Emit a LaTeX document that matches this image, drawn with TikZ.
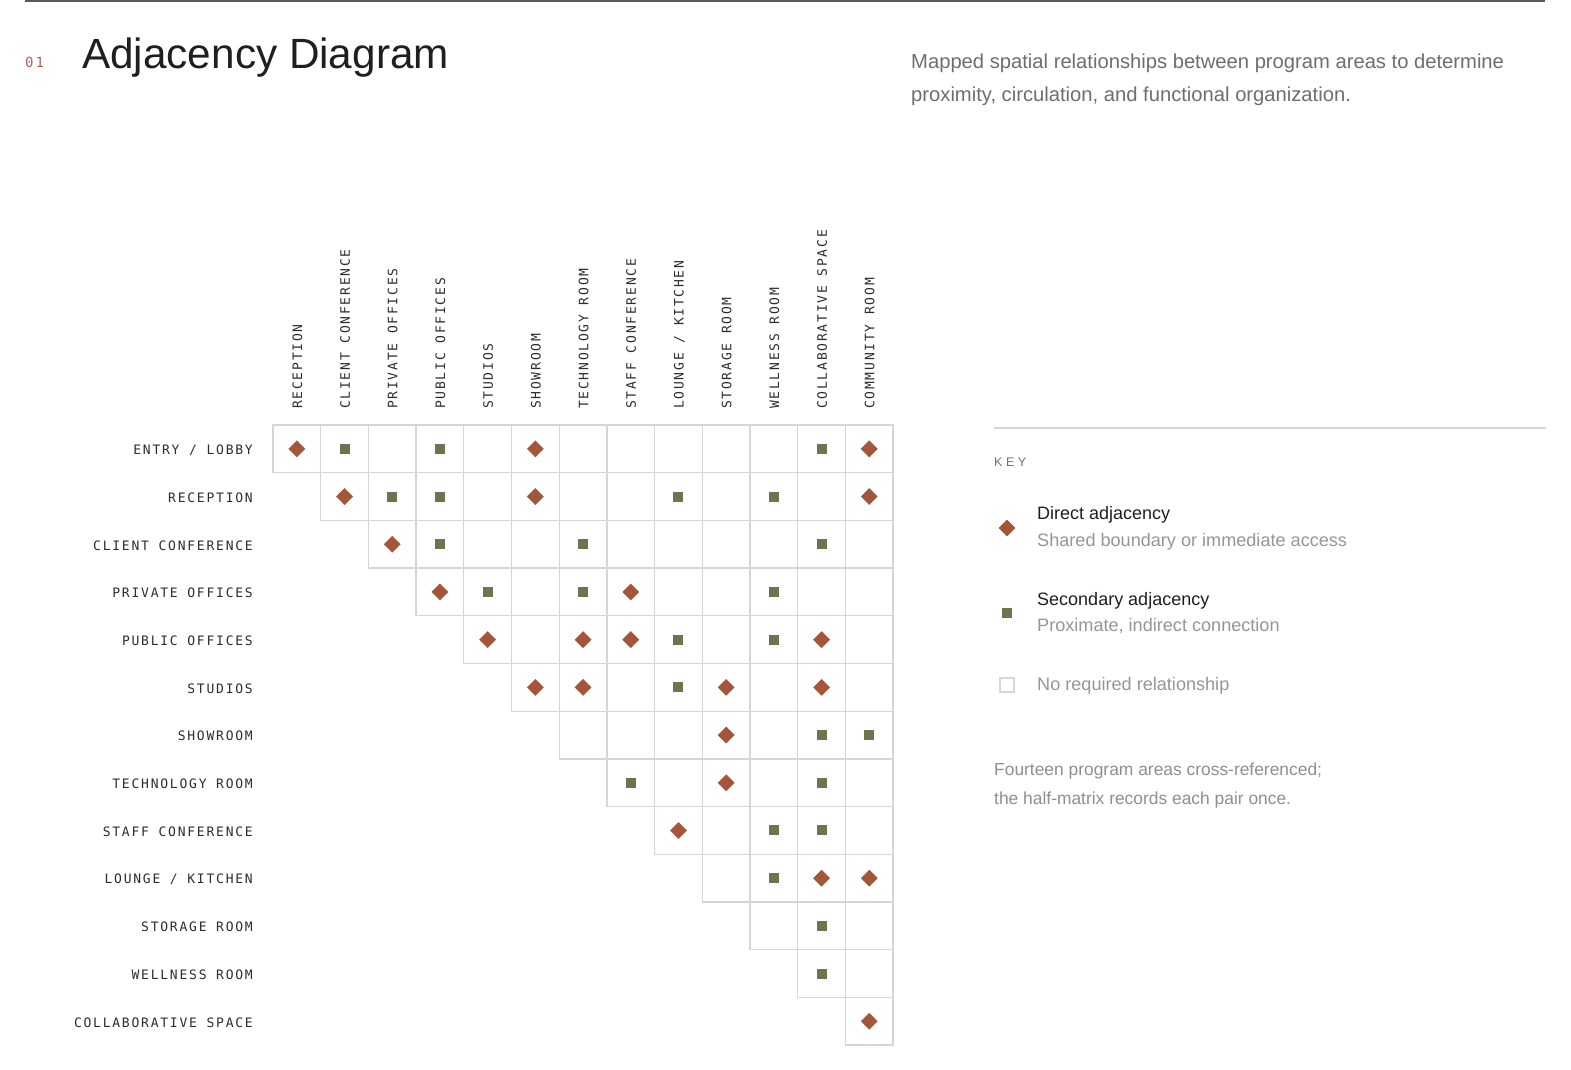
\documentclass[tikz,border=0pt]{standalone}
\usepackage{fontspec}
\setmainfont{Liberation Sans}
\newfontfamily\monof{DejaVu Sans Mono}[LetterSpace=13.6]
\newfontfamily\keyf{Liberation Sans}[LetterSpace=28]
\usetikzlibrary{shapes.geometric}
\definecolor{rust}{RGB}{164,86,58}
\definecolor{olivesq}{RGB}{106,117,82}
\definecolor{gridgray}{RGB}{214,214,214}
\definecolor{labelink}{RGB}{45,45,45}
\definecolor{descgray}{RGB}{110,110,110}
\definecolor{softgray}{RGB}{150,150,150}
\definecolor{numbrown}{RGB}{165,105,85}
\tikzset{
  cellbox/.style={draw=gridgray, line width=1.3pt, minimum size=47.7pt, inner sep=0pt},
  directmark/.style={diamond, fill=rust, inner sep=0pt, minimum size=17pt},
  secondmark/.style={rectangle, fill=olivesq, inner sep=0pt, minimum size=10pt},
  rowlab/.style={font=\monof\fontsize{13}{15}\selectfont, text=labelink, inner sep=0pt, anchor=base east},
  collab/.style={font=\monof\fontsize{13}{15}\selectfont, text=labelink, inner sep=0pt, rotate=90, anchor=base west},
  keytitle/.style={font=\fontsize{18}{22}\selectfont, text=black!88, inner sep=0pt, anchor=base west},
  keysub/.style={font=\fontsize{18.1}{22}\selectfont, text=softgray, inner sep=0pt, anchor=base west},
  desc/.style={font=\fontsize{20.2}{24}\selectfont, text=descgray, inner sep=0pt, anchor=base west},
  foot/.style={font=\fontsize{17.4}{22}\selectfont, text=softgray!95!black, inner sep=0pt, anchor=base west}
}
\begin{document}
\begin{tikzpicture}[x=1pt,y=-1pt]
\useasboundingbox (0,0) rectangle (1571,1070);
\fill[white] (0,0) rectangle (1571,1070);
% top rule
\draw[black!65, line width=1.3pt] (25,1) -- (1545,1);
% header
\node[font=\monof\fontsize{14}{16}\selectfont, text=numbrown, inner sep=0pt, anchor=base west] (num) at (25,68) {01};
\node[font=\fontsize{42.3}{48}\selectfont, text=black!88, inner sep=0pt, anchor=base west] (title) at (82,68.5) {Adjacency Diagram};
\node[desc] (desc1) at (911,68.5) {Mapped spatial relationships between program areas to determine};
\node[desc] (desc2) at (911,101.5) {proximity, circulation, and functional organization.};
% grid cells
\foreach \i in {0,...,12} {
  \foreach \j in {\i,...,12} {
    \node[cellbox] (c\i-\j) at ({273+(\j+0.5)*47.7},{425+(\i+0.5)*47.7}) {};
  }
}
% row labels
\foreach \nm [count=\k from 0] in {{ENTRY / LOBBY},RECEPTION,{CLIENT CONFERENCE},{PRIVATE OFFICES},{PUBLIC OFFICES},STUDIOS,SHOWROOM,{TECHNOLOGY ROOM},{STAFF CONFERENCE},{LOUNGE / KITCHEN},{STORAGE ROOM},{WELLNESS ROOM},{COLLABORATIVE SPACE}} {
  \node[rowlab] (r\k) at (253,{425+(\k+0.5)*47.7+5.8}) {\nm};
}
% column labels
\foreach \nm [count=\k from 0] in {RECEPTION,{CLIENT CONFERENCE},{PRIVATE OFFICES},{PUBLIC OFFICES},STUDIOS,SHOWROOM,{TECHNOLOGY ROOM},{STAFF CONFERENCE},{LOUNGE / KITCHEN},{STORAGE ROOM},{WELLNESS ROOM},{COLLABORATIVE SPACE},{COMMUNITY ROOM}} {
  \node[collab] (h\k) at ({273+(\k+0.5)*47.7+5.2},409) {\nm};
}
% direct adjacencies
\foreach \i/\j in {0/0,0/5,0/12,1/1,1/5,1/12,2/2,3/3,3/7,4/4,4/6,4/7,4/11,5/5,5/6,5/9,5/11,6/9,7/9,8/8,9/11,9/12,12/12} {
  \node[directmark] (d\i-\j) at (c\i-\j) {};
}
% secondary adjacencies
\foreach \i/\j in {0/1,0/3,0/11,1/2,1/3,1/8,1/10,2/3,2/6,2/11,3/4,3/6,3/10,4/8,4/10,5/8,6/11,6/12,7/7,7/11,8/10,8/11,9/10,10/11,11/11} {
  \node[secondmark] (s\i-\j) at (c\i-\j) {};
}
% key
\draw[gridgray, line width=1.3pt] (994,428) -- (1546,428);
\node[font=\keyf\fontsize{12.5}{14}\selectfont, text=black!55, inner sep=0pt, anchor=base west] (keyhead) at (994,466) {KEY};
\node[directmark] (kd) at (1007,528) {};
\node[keytitle] (kdt) at (1037,519) {Direct adjacency};
\node[keysub] (kds) at (1037,546) {Shared boundary or immediate access};
\node[secondmark] (ks) at (1007,613) {};
\node[keytitle] (kst) at (1037,605) {Secondary adjacency};
\node[keysub] (kss) at (1037,631) {Proximate, indirect connection};
\node[draw=gridgray, line width=1.3pt, minimum size=14pt, inner sep=0pt] (kn) at (1007,685) {};
\node[keysub] (knt) at (1037,690) {No required relationship};
\node[foot] (f1) at (994,775) {Fourteen program areas cross-referenced;};
\node[foot] (f2) at (994,804) {the half-matrix records each pair once.};
\end{tikzpicture}
\end{document}
